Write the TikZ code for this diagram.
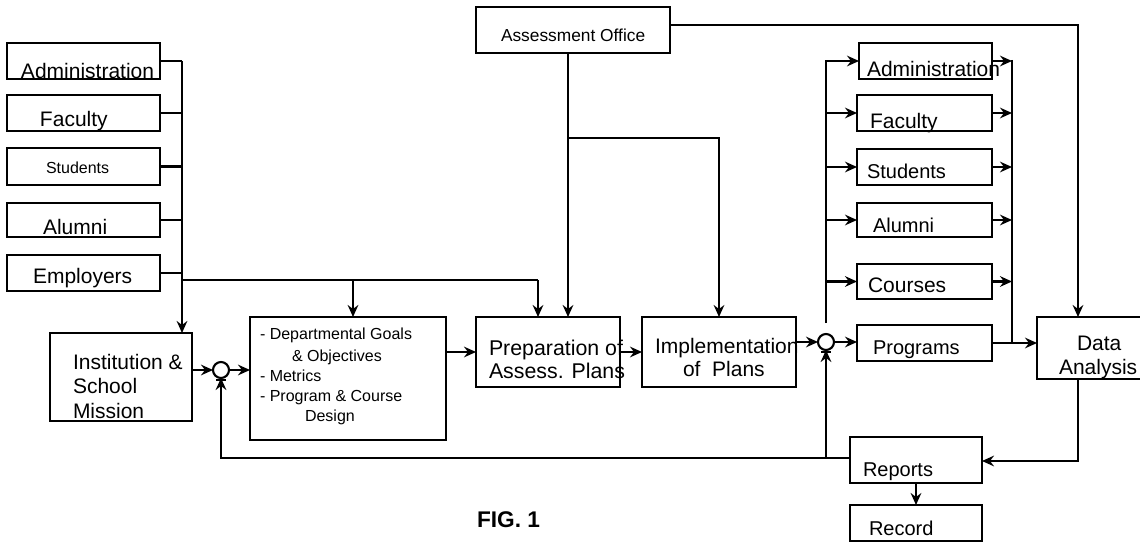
\documentclass[tikz,border=0pt]{standalone}
\usepackage{fontspec}
\setmainfont{Liberation Sans}
\usetikzlibrary{arrows.meta,calc}
\tikzset{
  box/.style={draw, line width=1.6pt, inner sep=0pt, outer sep=0pt},
  sumnode/.style={draw, circle, line width=1.6pt, minimum size=12pt, inner sep=0pt, outer sep=0pt},
  txt/.style={anchor=base west, inner sep=0pt, outer sep=0pt},
  bigf/.style={font=\fontsize{15.75}{18}\selectfont},
  midf/.style={font=\fontsize{15}{18}\selectfont},
  smlf/.style={font=\fontsize{12}{14}\selectfont},
  aof/.style={font=\fontsize{13}{15}\selectfont},
  figf/.style={font=\fontsize{17}{20}\selectfont\bfseries},
  conn/.style={line width=1.6pt},
  arr/.style={conn, -{Stealth[length=9pt,width=8pt,inset=3pt]}},
}
\newcommand\bx[5]{\node[box, minimum width={(#4-#2)*0.75}, minimum height={(#5-#3)*0.75}] (#1) at ({(#2+#4)/2},{(#3+#5)/2}) {};}
\begin{document}
\begin{tikzpicture}[x=0.75pt,y=-0.75pt]
\useasboundingbox (0,0) rectangle (1140,542);
% boxes
\bx{la}{7}{43}{160}{79}
\bx{lf}{7}{95}{160}{131}
\bx{ls}{7}{148}{160}{185}
\bx{lal}{7}{203}{160}{237}
\bx{le}{7}{255}{160}{291}
\bx{inst}{50}{333}{192}{421}
\bx{dg}{250}{317}{446}{440}
\bx{ao}{476}{7}{670}{53}
\bx{prep}{476}{317}{620}{387}
\bx{impl}{642}{317}{796}{387}
\bx{ra}{859}{43}{992}{79}
\bx{rf}{857}{95}{992}{131}
\bx{rs}{857}{149}{992}{185}
\bx{ral}{857}{203}{992}{237}
\bx{rc}{857}{264}{992}{299}
\bx{prog}{857}{325}{992}{361}
\bx{da}{1037}{317}{1143}{379}
\bx{rep}{850}{437}{982}{483}
\bx{rec}{850}{505}{982}{541}
\node[sumnode] (c1) at (221,370) {};
\node[sumnode] (c2) at (826,342) {};
% texts
\node[txt,bigf] (la-t) at (21,79) {Administration};
\node[txt,bigf] (lf-t) at (40,127) {Faculty};
\node[txt,smlf] (ls-t) at (46,173) {Students};
\node[txt,bigf] (lal-t) at (43,234) {Alumni};
\node[txt,bigf] (le-t) at (33,283) {Employers};
\node[txt,bigf] (inst-t1) at (73,369) {Institution \&};
\node[txt,bigf] (inst-t2) at (73,393) {School};
\node[txt,bigf] (inst-t3) at (73,418) {Mission};
\node[txt,smlf] (dg-t1) at (260,339) {- Departmental Goals};
\node[txt,smlf] (dg-t2) at (292,361) {\& Objectives};
\node[txt,smlf] (dg-t3) at (260,381) {- Metrics};
\node[txt,smlf] (dg-t4) at (260,401) {- Program \& Course};
\node[txt,smlf] (dg-t5) at (305,421) {Design};
\node[txt,aof] (ao-t) at (501,42) {Assessment Office};
\node[txt,font=\fontsize{16}{18}\selectfont] (prep-t1) at (489,355) {Preparation of};
\node[txt,font=\fontsize{16}{18}\selectfont] (prep-t2) at (489,378) {Assess. Plans};
\node[txt,bigf] (impl-t1) at (655,353) {Implementation};
\node[txt,bigf] (impl-t2) at (683,376) {of\ \ Plans};
\node[txt,bigf] (ra-t) at (867,77) {Administration};
\node[txt,bigf] (rf-t) at (870,128) {Faculty};
\node[txt,midf] (rs-t) at (867,178) {Students};
\node[txt,midf] (ral-t) at (873,233) {Alumni};
\node[txt,bigf] (rc-t) at (868,292) {Courses};
\node[txt,midf] (prog-t) at (873,354) {Programs};
\node[txt,bigf] (da-t1) at (1077,350) {Data};
\node[txt,bigf] (da-t2) at (1059,374) {Analysis};
\node[txt,midf] (rep-t) at (863,476) {Reports};
\node[txt,midf] (rec-t) at (869,535) {Record};
\node[txt,figf] (fig) at (477,527) {FIG. 1};
% coordinates
\coordinate (lbus) at (182,61);
\coordinate (ebr) at (182,280);
\coordinate (dga) at (353,280);
\coordinate (ppa) at (538,280);
\coordinate (av) at (568,138);
\coordinate (dv) at (1078,25);
\coordinate (rbl) at (826,60);
\coordinate (rblb) at (826,323);
\coordinate (rbr) at (1012,60);
\coordinate (dd) at (1078,461);
\coordinate (fb) at (826,458);
% connectors
\foreach \b in {la,lf,ls,lal,le} \draw[conn] (\b.east) -- (\b.east -| lbus);
\draw[arr] (lbus) -- (lbus |- inst.north);
\draw[conn] (ebr) -- (ppa);
\draw[arr] (dga) -- (dga |- dg.north);
\draw[arr] (ppa) -- (ppa |- prep.north);
\draw[arr] (av |- ao.south) -- (av |- prep.north);
\draw[arr] (av) -| (impl.north);
\draw[arr] (ao.east |- dv) -- (dv) -- (dv |- da.north);
\draw[arr] (inst.east |- c1) -- (c1.west);
\draw[arr] (c1.east) -- (c1.east -| dg.west);
\draw[arr] (dg.east |- prep.west) -- (prep.west);
\draw[arr] (prep.east) -- (impl.west);
\draw[arr] (impl.east |- c2) -- (c2.west);
\draw[arr] (c2.east) -- (c2.east -| prog.west);
\draw[arr] (prog.east) -- (prog.east -| da.west);
\draw[conn] (rblb) -- (rbl);
\foreach \b in {ra,rf,rs,ral,rc} {
  \draw[arr] (\b.west -| rbl) -- (\b.west);
  \draw[arr] (\b.east) -- (\b.east -| rbr);
}
\draw[conn] (rbr) -- (rbr |- prog.east);
\draw[arr] (dd |- da.south) -- (dd) -- (rep.east |- dd);
\draw[arr] (rep.south) -- (rec.north);
\draw[arr] (rep.west |- fb) -- (c1 |- fb) -- (c1.south);
\draw[arr] (fb) -- (c2.south);
\draw[conn] ($(c1.south)+(-5,2)$) -- ($(c1.south)+(5,2)$);
\draw[conn] ($(c2.south)+(-5,2)$) -- ($(c2.south)+(5,2)$);
\end{tikzpicture}
\end{document}
